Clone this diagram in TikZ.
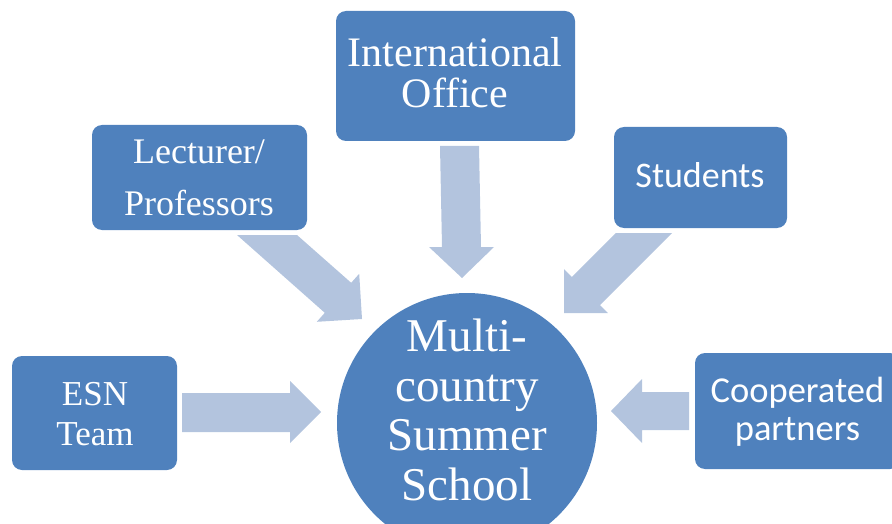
\documentclass[tikz,border=0pt]{standalone}
\usepackage{fontspec}
\setmainfont{Liberation Serif}
\newfontfamily\calibrifont{Carlito}
\definecolor{boxblue}{HTML}{4F81BD}
\definecolor{arrowblue}{RGB}{179,196,222}
\tikzset{
  boxshape/.style={fill=boxblue, draw=none, rounded corners=10pt},
  txt/.style={text=white, anchor=base, align=center, inner sep=0pt},
  blockarrow/.style={fill=arrowblue, draw=none},
}
\begin{document}
\begin{tikzpicture}[x=1pt,y=-1pt]
\useasboundingbox (0,0) rectangle (892,524);
\clip (0,0) rectangle (892,524);
% boxes
\fill[boxshape] (336,11) rectangle (575,141);
\node[inner sep=0, minimum width=239pt, minimum height=130pt] (io) at (455.5,76) {};
\fill[boxshape] (92,125) rectangle (307,230);
\node[inner sep=0, minimum width=215pt, minimum height=105pt] (lect) at (199.5,177.5) {};
\fill[boxshape] (614,127) rectangle (787,228);
\node[inner sep=0, minimum width=173pt, minimum height=101pt] (stud) at (700.5,177.5) {};
\fill[boxshape] (12,356) rectangle (177,470);
\node[inner sep=0, minimum width=165pt, minimum height=114pt] (esn) at (94.5,413) {};
\fill[boxshape] (695,353) rectangle (900,469);
\node[inner sep=0, minimum width=205pt, minimum height=116pt] (coop) at (797.5,411) {};
% circle
\node[circle, fill=boxblue, minimum size=260pt, inner sep=0] (hub) at (467,423) {};
% texts (anchor base = baseline of last line)
\node[txt, font=\fontsize{42}{41}\selectfont] (iot) at (455,108) {International\\Office};
\node[txt, font=\fontsize{36}{52}\selectfont] (lectt) at (199,215) {Lecturer/\\Professors};
\node[txt, font=\calibrifont\fontsize{36}{40}\selectfont] (studt) at (700,187) {Students};
\node[txt, font=\fontsize{35}{40}\selectfont] (esnt) at (95,445) {ESN\\Team};
\node[txt, font=\calibrifont\fontsize{36.5}{38}\selectfont] (coopt) at (797.5,440) {Cooperated\\partners};
\node[txt, font=\fontsize{47}{49.5}\selectfont] (hubt) at (467,500) {Multi-\\country\\Summer\\School};
% arrows
\fill[blockarrow] (440,146) -- (479,146) -- (481,247) -- (494,247) -- (462,278) -- (429,247) -- (442,247) -- cycle;
\fill[blockarrow] (237,235) -- (297,235) -- (351.2,282.8) -- (359.2,273.8) -- (362,319) -- (316.8,321.8) -- (324.8,312.8) -- cycle;
\fill[blockarrow] (615.8,233) -- (672.2,233) -- (600,305.2) -- (607.8,313) -- (564,313) -- (564,269.2) -- (571.8,277) -- cycle;
\fill[blockarrow] (182,393) -- (290,393) -- (290,381) -- (321,412) -- (290,443) -- (290,432) -- (182,432) -- cycle;
\fill[blockarrow] (689,392) -- (642,392) -- (642,379) -- (611,411) -- (642,443) -- (642,430) -- (689,430) -- cycle;
\end{tikzpicture}
\end{document}
